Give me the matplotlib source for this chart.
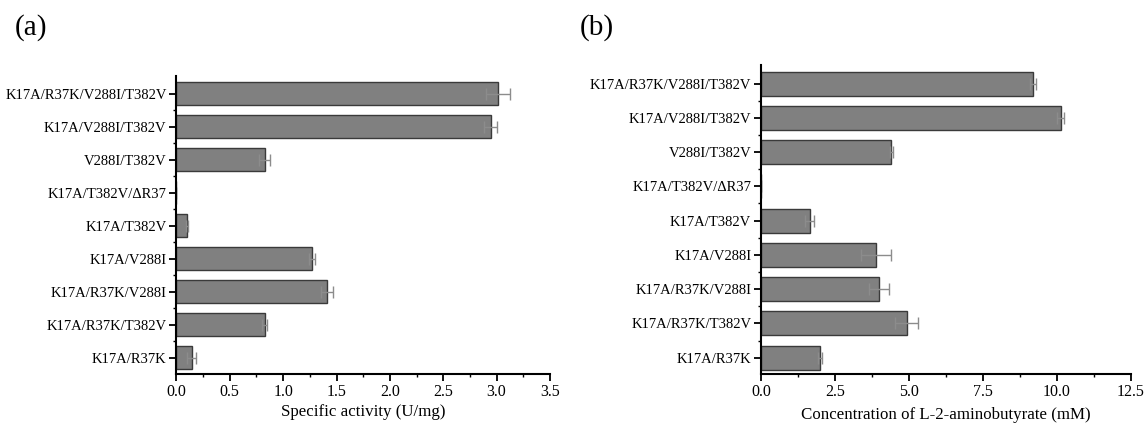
import numpy as np
import matplotlib
matplotlib.use('Agg')
from matplotlib import pyplot as plt

# Dados
categorias = ['K17A/R37K', 'K17A/R37K/T382V', 'K17A/R37K/V288I', 'K17A/V288I',
              'K17A/T382V', 'K17A/T382V/ΔR37', 'V288I/T382V', 'K17A/V288I/T382V',
              'K17A/R37K/V288I/T382V']
atividade = [0.145, 0.827, 1.408, 1.269, 0.097, 0.0, 0.827, 2.943, 3.016]
atividade_erro = [0.042, 0.024, 0.055, 0.031, 0.010, 0.0, 0.052, 0.062, 0.112]
concentracao = [2.00, 4.93, 3.99, 3.89, 1.64, 0.0, 4.40, 10.13, 9.19]
concentracao_erro = [0.07, 0.39, 0.35, 0.50, 0.16, 0.0, 0.05, 0.12, 0.10]

plt.rcParams['font.family'] = ['Liberation Serif', 'DejaVu Serif']

fig = plt.figure(figsize=(11.45, 4.23), dpi=100)
ax_a = fig.add_axes([0.1541, 0.1158, 0.3262, 0.7045])
ax_b = fig.add_axes([0.6646, 0.1147, 0.3232, 0.7316])


def desenhar(ax, valores, erros, xmax, passo, rotulo, ytop):
    y = np.arange(len(categorias))
    ax.barh(y, valores, height=0.7, color='#808080', edgecolor='#3a3a3a', linewidth=1.0,
            xerr=erros, error_kw=dict(ecolor='#8c8c8c', elinewidth=1.0, capsize=4, capthick=1.0))
    ax.set_yticks(y)
    ax.set_yticklabels(categorias, fontsize=10.5)
    ax.set_yticks(y[:-1] + 0.5, minor=True)
    ax.set_ylim(-0.49, ytop)
    ax.set_xlim(0, xmax)
    ax.set_xticks(np.arange(0, xmax + 1e-9, passo))
    ax.set_xticks(np.arange(passo / 2, xmax, passo), minor=True)
    ax.xaxis.set_major_formatter(matplotlib.ticker.FormatStrFormatter('%.1f'))
    for lbl in ax.get_xticklabels():
        lbl.set_fontsize(11.5)
    for s in ['top', 'right']:
        ax.spines[s].set_visible(False)
    for s in ['left', 'bottom']:
        ax.spines[s].set_linewidth(1.5)
    ax.tick_params(which='major', direction='out', length=5, width=1.3, pad=2)
    ax.tick_params(which='minor', direction='out', length=2.5, width=1.0)
    ax.set_xlabel(rotulo, fontsize=12.2)


desenhar(ax_a, atividade, atividade_erro, 3.5, 0.5, 'Specific activity (U/mg)', 8.54)
desenhar(ax_b, concentracao, concentracao_erro, 12.5, 2.5,
         'Concentration of L-2-aminobutyrate (mM)', 8.54)
ax_a.xaxis.set_label_coords(0.5, -0.102)
ax_b.xaxis.set_label_coords(0.5, -0.105)

fig.text(15 / 1145, 1 - 28 / 423, '(a)', fontsize=21, va='center', ha='left')
fig.text(580 / 1145, 1 - 28 / 423, '(b)', fontsize=21, va='center', ha='left')

fig.savefig('out.png', dpi=100)
